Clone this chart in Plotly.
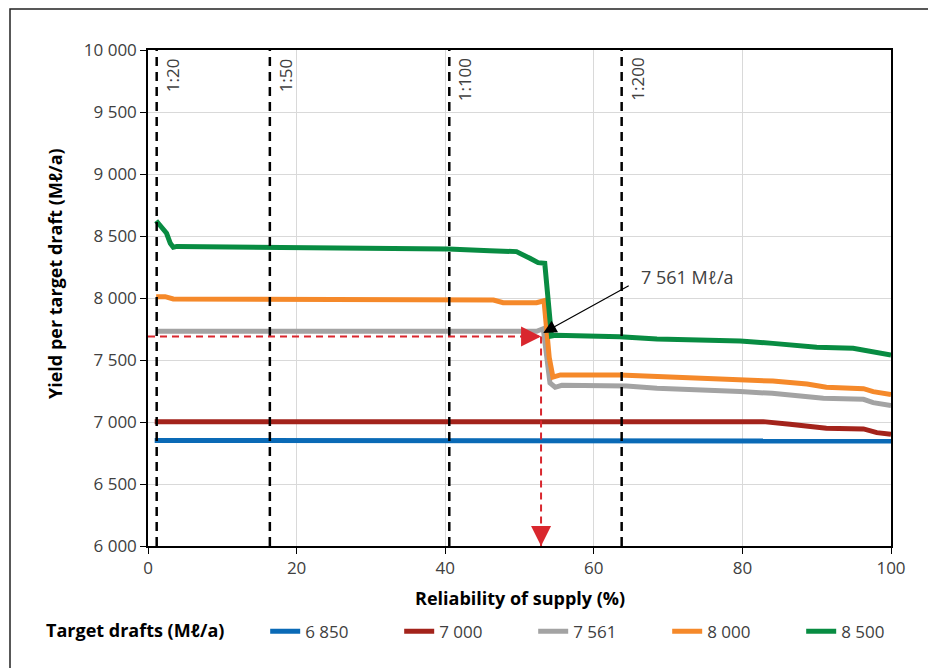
import plotly.graph_objects as go

# ---------------- data ----------------
series_names = ["6 850", "7 000", "7 561", "8 000", "8 500"]
series_colors = ["#0a6ab6", "#a3231b", "#a3a3a3", "#f5892a", "#088c42"]

x_6850 = [0.9, 20, 40, 60, 80, 99, 100]
y_6850 = [6851, 6851, 6851, 6851, 6851, 6851, 6846]

x_7000 = [0.9, 20, 40, 60, 82.8, 86.4, 91.3, 96.3, 98.1, 100]
y_7000 = [7003, 7003, 7003, 7003, 7003, 6981, 6949, 6944, 6914, 6901]

x_7561 = [1.2, 20, 40, 52.3, 53.2, 54.1, 54.8, 55.7, 64.4, 68.5, 79.7, 84.0, 90.9, 96.3, 97.6, 100]
y_7561 = [7732, 7732, 7732, 7732, 7752, 7315, 7280, 7296, 7290, 7272, 7245, 7231, 7191, 7183, 7156, 7132]

x_8000 = [1.1, 2.3, 3.4, 25.8, 38, 46.5, 47.8, 52.3, 53.3, 54.0, 54.5, 55.5, 63.5, 68.5, 79.7, 84.1, 88.7, 91.3, 96.3, 97.6, 100]
y_8000 = [8011, 8011, 7992, 7992, 7984, 7984, 7962, 7962, 7978, 7520, 7362, 7380, 7379, 7366, 7339, 7330, 7306, 7280, 7269, 7245, 7222]

x_8500 = [1.1, 1.8, 2.5, 3.0, 3.4, 3.9, 22.6, 24.5, 40.4, 46, 49.6, 51.4, 52.5, 53.4, 54.3, 54.8, 63.5, 68.5, 79.7, 84.1, 90, 94.9, 100]
y_8500 = [8623, 8575, 8522, 8441, 8409, 8416, 8410, 8409, 8395, 8382, 8374, 8320, 8285, 8280, 7694, 7700, 7688, 7669, 7653, 7634, 7602, 7594, 7540]

xs = [x_6850, x_7000, x_7561, x_8000, x_8500]
ys = [y_6850, y_7000, y_7561, y_8000, y_8500]

# return-period reference lines
rp_labels = ["1:20", "1:50", "1:100", "1:200"]
rp_x = [1.17, 16.4, 40.55, 63.75]

# reading for the 7 561 Mℓ/a target draft
read_reliability = 52.9
read_yield = 7690
callout_text = "7 561 Mℓ/a"
callout_tip = (53.2, 7718)
callout_tail = (64.9, 8105)

x_range = [0, 100]
y_range = [6000, 10000]

FONT = "Open Sans"
TXT = "#404040"

fig = go.Figure()
for name, col, x, y in zip(series_names, series_colors, xs, ys):
    fig.add_trace(go.Scatter(x=x, y=y, mode="lines", name=name,
                             line=dict(color=col, width=5)))

shapes = []
annotations = []
for lab, xv in zip(rp_labels, rp_x):
    shapes.append(dict(type="line", xref="x", yref="paper", x0=xv, x1=xv, y0=0, y1=1,
                       line=dict(color="black", width=2.5, dash="9px,6px")))
    annotations.append(dict(x=xv, y=1, xref="x", yref="paper", text=lab, showarrow=False,
                            textangle=-90, xanchor="left", yanchor="top", xshift=2, yshift=-6,
                            font=dict(family=FONT, size=17, color=TXT)))

red = "#d9272e"
# red dashed reading lines
shapes.append(dict(type="line", xref="x", yref="y", x0=0, x1=read_reliability,
                   y0=read_yield, y1=read_yield, line=dict(color=red, width=2, dash="7px,5px")))
shapes.append(dict(type="line", xref="x", yref="y", x0=read_reliability, x1=read_reliability,
                   y0=read_yield, y1=y_range[0], line=dict(color=red, width=2, dash="7px,5px")))
# arrowheads
annotations.append(dict(x=read_reliability, y=read_yield, xref="x", yref="y", ax=-12, ay=0,
                        showarrow=True, arrowhead=2, arrowsize=2.0, arrowwidth=2, arrowcolor=red, text=""))
annotations.append(dict(x=read_reliability, y=y_range[0], xref="x", yref="y", ax=0, ay=-12,
                        showarrow=True, arrowhead=2, arrowsize=2.0, arrowwidth=2, arrowcolor=red, text=""))
# callout arrow
annotations.append(dict(x=callout_tip[0], y=callout_tip[1], xref="x", yref="y",
                        ax=callout_tail[0], ay=callout_tail[1], axref="x", ayref="y",
                        showarrow=True, arrowhead=2, arrowsize=2.2, arrowwidth=1.2,
                        arrowcolor="black", text=""))
annotations.append(dict(x=callout_tail[0] + 1.2, y=8169, xref="x", yref="y", text=callout_text,
                        showarrow=False, xanchor="left", yanchor="middle",
                        font=dict(family=FONT, size=18, color=TXT)))
# axis titles
annotations.append(dict(x=(55 - 148) / 743, y=(546 - 274) / 496, xref="paper", yref="paper",
                        text="<b>Yield per target draft (Mℓ/a)</b>", textangle=-90, showarrow=False,
                        xanchor="center", yanchor="middle",
                        font=dict(family=FONT, size=18, color="black")))
annotations.append(dict(x=0.5, y=(546 - 598) / 496, xref="paper", yref="paper",
                        text="<b>Reliability of supply (%)</b>", showarrow=False,
                        xanchor="center", yanchor="middle",
                        font=dict(family=FONT, size=18, color="black")))
# outer frame
shapes.append(dict(type="rect", xref="paper", yref="paper",
                   x0=(10 - 148) / 743, x1=(932 - 148) / 743, y0=(546 - 700) / 496, y1=(546 - 9) / 496,
                   line=dict(color="#222222", width=1.5), layer="below"))

# the page adds an 8px body margin; the figure is sized/offset to compensate
fig.update_layout(
    width=928, height=660,
    margin=dict(l=140, r=45, t=42, b=122),
    paper_bgcolor="white", plot_bgcolor="white",
    separators=". ",
    showlegend=True,
    legend=dict(orientation="h", x=(45 - 148) / 743, xanchor="left", y=-0.173, yanchor="middle",
                title=dict(text="<b>Target drafts (Mℓ/a)</b>&nbsp;&nbsp;&nbsp;&nbsp;&nbsp;&nbsp;&nbsp;", side="left",
                           font=dict(family=FONT, size=18, color="black")),
                font=dict(family=FONT, size=17, color=TXT),
                entrywidth=89, entrywidthmode="pixels"),
    shapes=shapes, annotations=annotations,
    font=dict(family=FONT, color=TXT),
)
fig.update_xaxes(range=x_range, dtick=20, showgrid=True, gridcolor="#d9d9d9", gridwidth=1,
                 showline=True, linecolor="black", linewidth=1.5, mirror=True,
                 ticks="outside", ticklen=6, tickcolor="black",
                 tickfont=dict(family=FONT, size=17, color=TXT), zeroline=False)
fig.update_yaxes(range=y_range, dtick=500, tickformat=",d", showgrid=True, gridcolor="#d9d9d9", gridwidth=1,
                 showline=True, linecolor="black", linewidth=1.5, mirror=True,
                 ticks="outside", ticklen=6, tickcolor="black",
                 tickfont=dict(family=FONT, size=17, color=TXT), zeroline=False)

fig.write_html("out.html")
